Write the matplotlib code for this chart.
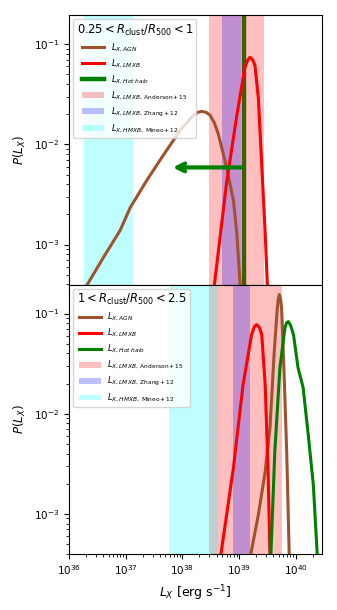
import numpy as np
import matplotlib
matplotlib.use("Agg")
import matplotlib.pyplot as plt

# log10 values
# top panel: 0.25 < R/R500 < 1
agn_top_logx = [36.30, 36.605, 36.90, 37.08, 37.37, 37.66, 37.96, 38.19, 38.27, 38.34, 38.42, 38.49,
                38.56, 38.63, 38.78, 38.90, 38.96, 39.02]
agn_top_logp = [-3.42, -3.13, -2.86, -2.63, -2.36, -2.11, -1.86, -1.71, -1.68, -1.67, -1.68, -1.71,
                -1.78, -1.89, -2.23, -2.56, -2.89, -3.42]
lmxb_top_logx = [38.56, 38.78, 38.96, 39.10, 39.15, 39.19, 39.235, 39.28, 39.34, 39.40, 39.46, 39.50]
lmxb_top_logp = [-3.42, -2.38, -1.71, -1.24, -1.16, -1.13, -1.15, -1.21, -1.54, -2.21, -2.88, -3.42]
halo_top_logx = 39.09          # upper limit on hot halo
halo_arrow_logx = 37.78
halo_arrow_logp = -2.23

# bottom panel: 1 < R/R500 < 2.5
agn_bot_logx = [39.20, 39.34, 39.46, 39.545, 39.62, 39.67, 39.69, 39.71, 39.73, 39.75, 39.79, 39.84, 39.885]
agn_bot_logp = [-3.42, -3.01, -2.58, -2.14, -1.38, -0.98, -0.86, -0.81, -0.85, -0.94, -1.54, -2.38, -3.42]
lmxb_bot_logx = [38.675, 38.90, 39.07, 39.22, 39.27, 39.31, 39.36, 39.40, 39.46, 39.51, 39.545]
lmxb_bot_logp = [-3.42, -2.54, -1.71, -1.21, -1.13, -1.11, -1.14, -1.21, -1.71, -2.54, -3.42]
halo_bot_logx = [39.56, 39.63, 39.72, 39.81, 39.84, 39.87, 39.91, 39.96, 40.04, 40.13, 40.22, 40.31, 40.38]
halo_bot_logp = [-3.42, -2.38, -1.54, -1.14, -1.09, -1.08, -1.12, -1.21, -1.54, -1.74, -2.21, -2.71, -3.42]

# shaded ranges (log10 L_X)
anderson_top = (38.47, 39.44)
zhang_top = (38.70, 39.03)
mineo_top = (36.26, 37.12)
anderson_bot = (38.47, 39.75)
zhang_bot = (38.90, 39.19)
mineo_bot = (37.77, 38.63)

titles = [r"$0.25 < R_{\rm clust}/R_{500} < 1$", r"$1 < R_{\rm clust}/R_{500} < 2.5$"]


def p(v):
    return 10 ** np.asarray(v, dtype=float)


fig, (ax1, ax2) = plt.subplots(2, 1, sharex=True, figsize=(3.37, 6.10), dpi=100)
fig.subplots_adjust(left=0.205, right=0.955, top=0.975, bottom=0.092, hspace=0)

LW = 2.2

# top
ax1.axvline(p(halo_top_logx), color="green", lw=3.2, zorder=1, label=r"$L_{X,Hot\ halo}$")
ax1.annotate("", xy=(p(halo_arrow_logx), p(halo_arrow_logp)),
             xytext=(p(halo_top_logx), p(halo_arrow_logp)),
             arrowprops=dict(arrowstyle="->", color="green", lw=3, mutation_scale=14), zorder=4)

for ax, (a, z, m) in [(ax1, (anderson_top, zhang_top, mineo_top)),
                      (ax2, (anderson_bot, zhang_bot, mineo_bot))]:
    ax.axvspan(p(a[0]), p(a[1]), color="red", alpha=0.25, lw=0, zorder=2,
               label=r"$L_{X,LMXB,\rm\ Anderson+15}$")
    ax.axvspan(p(z[0]), p(z[1]), color="blue", alpha=0.25, lw=0, zorder=2,
               label=r"$L_{X,LMXB,\rm\ Zhang+12}$")
    ax.axvspan(p(m[0]), p(m[1]), color="cyan", alpha=0.25, lw=0, zorder=2,
               label=r"$L_{X,HMXB,\rm\ Mineo+12}$")

ax1.plot(p(agn_top_logx), p(agn_top_logp), color="sienna", lw=LW, zorder=3, label=r"$L_{X,AGN}$")
ax1.plot(p(lmxb_top_logx), p(lmxb_top_logp), color="red", lw=LW, zorder=3, label=r"$L_{X,LMXB}$")

ax2.plot(p(agn_bot_logx), p(agn_bot_logp), color="sienna", lw=LW, zorder=3, label=r"$L_{X,AGN}$")
ax2.plot(p(lmxb_bot_logx), p(lmxb_bot_logp), color="red", lw=LW, zorder=3, label=r"$L_{X,LMXB}$")
ax2.plot(p(halo_bot_logx), p(halo_bot_logp), color="green", lw=LW, zorder=3, label=r"$L_{X,Hot\ halo}$")

order_labels = [r"$L_{X,AGN}$", r"$L_{X,LMXB}$", r"$L_{X,Hot\ halo}$",
                r"$L_{X,LMXB,\rm\ Anderson+15}$", r"$L_{X,LMXB,\rm\ Zhang+12}$",
                r"$L_{X,HMXB,\rm\ Mineo+12}$"]

for ax, title in zip((ax1, ax2), titles):
    ax.set_xscale("log")
    ax.set_yscale("log")
    ax.set_xlim(1e36, 10 ** 40.46)
    ax.set_ylim(10 ** -3.40, 10 ** -0.71)
    ax.set_ylabel(r"$P(L_X)$", fontsize=8.5)
    ax.tick_params(labelsize=7.5)
    h, l = ax.get_legend_handles_labels()
    d = dict(zip(l, h))
    leg = ax.legend([d[k] for k in order_labels], order_labels, loc="upper left",
                    title=title, title_fontsize=8.3, fontsize=6, handlelength=2.6,
                    labelspacing=0.45, borderaxespad=0.5, framealpha=0.8)
    leg.set_zorder(5)

ax2.set_xlabel(r"$L_X$ [erg s$^{-1}$]", fontsize=9)

fig.savefig("out.png", dpi=100)
